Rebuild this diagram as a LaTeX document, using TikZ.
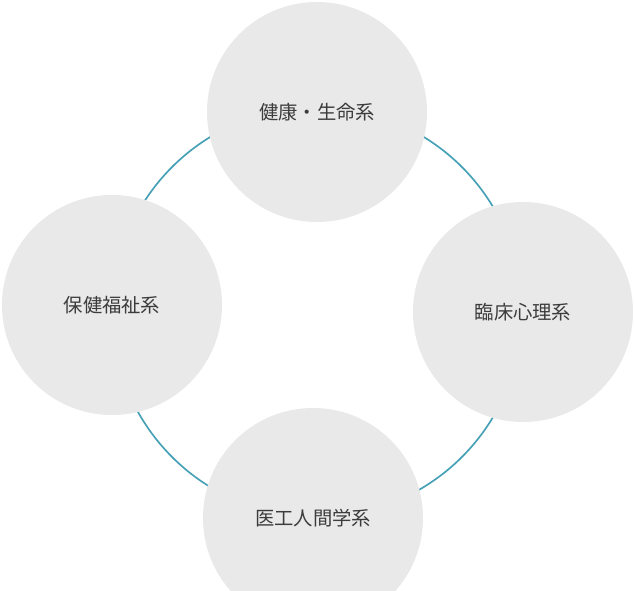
\documentclass[tikz,border=0pt]{standalone}
\usepackage{fontspec}
\newfontfamily\cjk{Noto Sans CJK JP}
\definecolor{ringc}{RGB}{70,160,182}
\definecolor{discc}{RGB}{233,233,233}
\definecolor{textc}{RGB}{60,60,60}
\tikzset{field/.style={circle,fill=discc,minimum size=66mm,inner sep=0pt,text=textc,font=\cjk\fontsize{16.5}{19}\selectfont}}
\begin{document}
\begin{tikzpicture}[x=0.3mm,y=-0.3mm]
\useasboundingbox (0,0) rectangle (634,591);
\clip (0,0) rectangle (634,591);
\fill[white] (0,0) rectangle (634,591);
% the ring
\draw[ringc,line width=0.5mm] (317,312) circle[radius=61.5mm];
% the four fields
\node[field] (health) at (317,112) {健康・生命系};
\node[field] (welfare) at (112,305) {保健福祉系};
\node[field] (clinic) at (523,312) {臨床心理系};
\node[field] (medeng) at (313,518) {医工人間学系};
\end{tikzpicture}
\end{document}
